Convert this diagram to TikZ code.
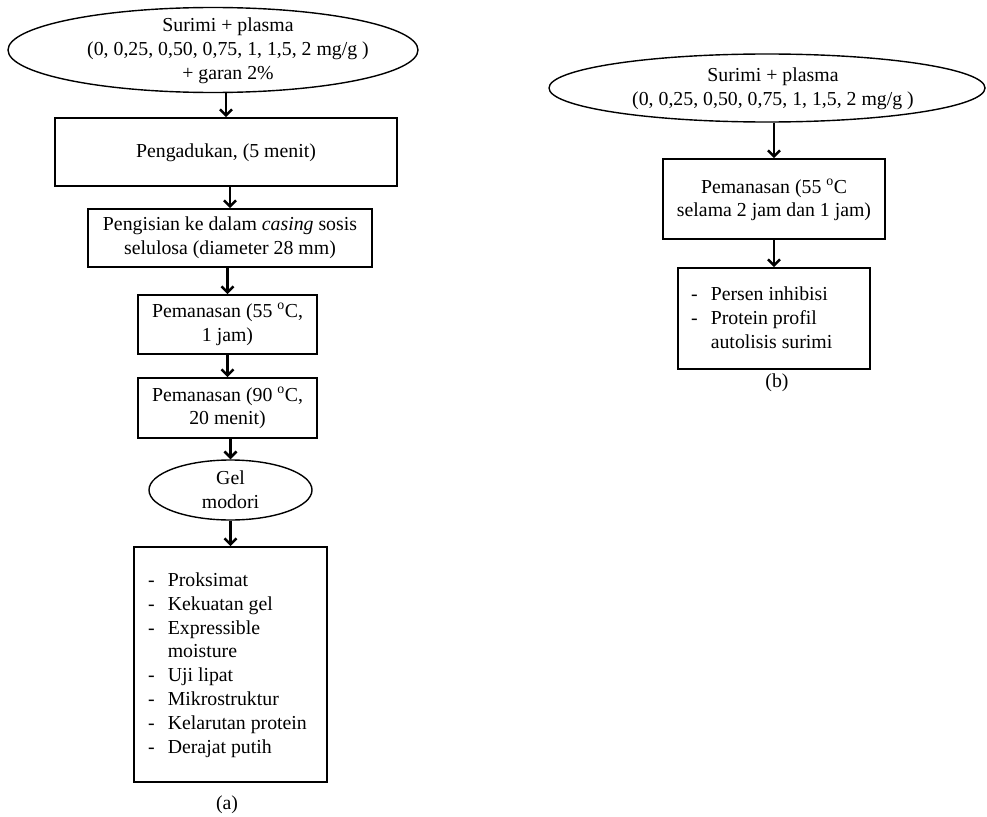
\documentclass[tikz,border=0pt]{standalone}
\usepackage{fontspec}
\setmainfont{Liberation Serif}
\usetikzlibrary{shapes.geometric,arrows.meta}
\newcommand{\dfont}{\fontsize{19.8}{23.8}\selectfont}
\begin{document}
\begin{tikzpicture}[x=1pt,y=-1pt,
  box/.style={draw,line width=1.6pt,inner sep=0pt},
  oval/.style={draw,ellipse,line width=1.4pt,inner sep=0pt},
  txt/.style={inner sep=0pt,align=center,font=\dfont},
  ltxt/.style={inner sep=0pt,anchor=west,font=\dfont},
  arr/.style={line width=2.6pt,-{Straight Barb[length=6pt,width=12pt,line width=2.6pt]}},
]
\useasboundingbox (0,0) rectangle (987,816);
% ---------- (a) ----------
\node[oval,minimum width=410,minimum height=85] (e1) at (213,50) {};
\node[txt] (e1t) at (228,51) {Surimi + plasma\\(0, 0,25, 0,50, 0,75, 1, 1,5, 2 mg/g )\\+ garan 2\%};
\node[box,minimum width=342,minimum height=68] (b1) at (226,152) {};
\node[txt] (b1t) at (226,153) {Pengadukan, (5 menit)};
\node[box,minimum width=284,minimum height=58] (b2) at (230,238) {};
\node[txt] (b2t) at (230,238) {Pengisian ke dalam \textit{casing} sosis\\selulosa (diameter 28 mm)};
\node[box,minimum width=179,minimum height=59] (b3) at (227.5,324.5) {};
\node[txt] (b3t) at (227.5,324.5) {Pemanasan (55 \textsuperscript{o}C,\\1 jam)};
\node[box,minimum width=179,minimum height=60] (b4) at (227.5,408) {};
\node[txt] (b4t) at (227.5,408) {Pemanasan (90 \textsuperscript{o}C,\\20 menit)};
\node[oval,minimum width=163,minimum height=60] (gel) at (230.5,490) {};
\node[txt] (gelt) at (230.5,490) {Gel\\modori};
\node[box,minimum width=193,minimum height=235] (b5) at (230.5,664.5) {};
\node[ltxt] (b5t) at (148,665) {\begin{tabular}{@{}l@{\hspace{13pt}}l@{}}
- & Proksimat\\
- & Kekuatan gel\\
- & Expressible\\
  & moisture\\
- & Uji lipat\\
- & Mikrostruktur\\
- & Kelarutan protein\\
- & Derajat putih
\end{tabular}};
\node[txt] (la) at (227,805) {(a)};
\draw[arr] (e1.south -| b1.north) -- (b1.north);
\draw[arr] (b1.south -| b2.north) -- (b2.north);
\draw[arr] (b2.south -| b3.north) -- (b3.north);
\draw[arr] (b3.south) -- (b4.north);
\draw[arr] (b4.south -| gel.north) -- (gel.north);
\draw[arr] (gel.south) -- (b5.north);
% ---------- (b) ----------
\node[oval,minimum width=436,minimum height=68] (e2) at (767,88) {};
\node[txt] (e2t) at (773,89) {Surimi + plasma\\(0, 0,25, 0,50, 0,75, 1, 1,5, 2 mg/g )};
\node[box,minimum width=222,minimum height=80] (c1) at (774,199) {};
\node[txt] (c1t) at (774,200) {Pemanasan (55 \textsuperscript{o}C\\selama 2 jam dan 1 jam)};
\node[box,minimum width=192,minimum height=101] (c2) at (774,318.5) {};
\node[ltxt] (c2t) at (691,320) {\begin{tabular}{@{}l@{\hspace{13pt}}l@{}}
- & Persen inhibisi\\
- & Protein profil\\
  & autolisis surimi
\end{tabular}};
\node[txt] (lb) at (777,383) {(b)};
\draw[arr] (e2.south -| c1.north) -- (c1.north);
\draw[arr] (c1.south) -- (c2.north);
\end{tikzpicture}
\end{document}
